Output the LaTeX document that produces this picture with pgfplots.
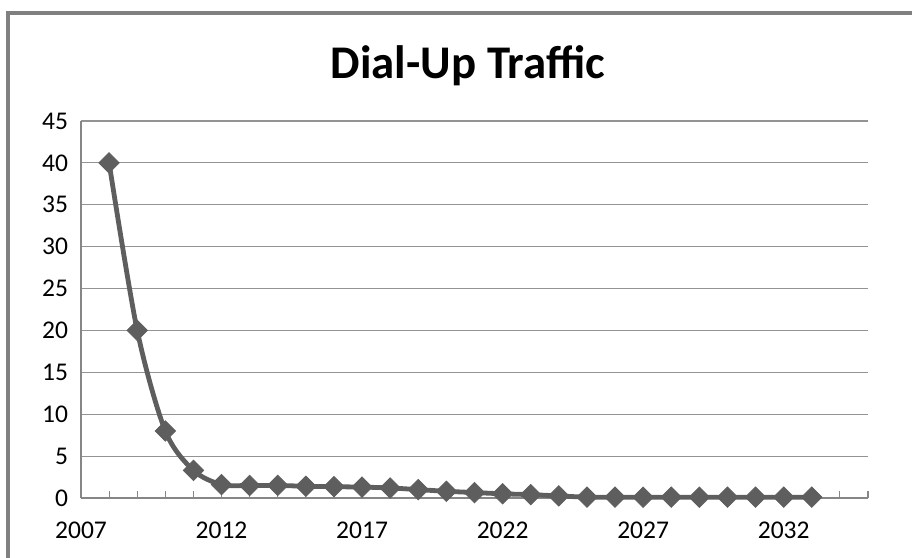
\documentclass[border=0pt]{standalone}
\usepackage{fontspec}
\setmainfont{Carlito}
\usepackage{pgfplots}
\pgfplotsset{compat=1.18}
\definecolor{frameGray}{HTML}{808080}
\definecolor{gridGray}{HTML}{939393}
\definecolor{axisGray}{HTML}{868686}
\definecolor{lineGray}{HTML}{5E5E5E}

\begin{document}
\begin{tikzpicture}
% picture is 912x558 px at 0.5bp per px
\path[use as bounding box] (0,0) rectangle (456bp,279bp);
\draw[frameGray, line width=2bp] (4bp,0) -- (4bp,272.5bp) -- (456bp,272.5bp);
\node[font=\fontsize{23.5}{27}\selectfont\bfseries] at (234bp,246bp) {Dial-Up Traffic};
\begin{axis}[
  at={(40.5bp,30bp)}, anchor=south west,
  scale only axis, width=393.5bp, height=188.5bp,
  xmin=2007, xmax=2035, ymin=0, ymax=45,
  xtick={2007,2012,...,2032}, minor xtick={2007,2008,...,2035},
  ytick={0,5,...,45},
  axis x line=bottom, axis y line=left,
  axis line style={-, axisGray, line width=0.7bp},
  tick align=inside,
  major tick length=3.5bp, minor tick length=3.5bp,
  every tick/.style={axisGray, line width=0.6bp},
  ytick style={draw=none},
  ymajorgrids, grid style={gridGray, line width=0.6bp},
  /pgf/number format/assume math mode=true,
  /pgf/number format/set thousands separator={},
  tick label style={font=\fontsize{12.8}{15}\selectfont},
  xticklabel style={yshift=-8.5bp},
  yticklabel style={xshift=-3bp},
  clip=false,
]
  \addplot[lineGray, line width=2.4bp, smooth, tension=0.5,
    mark=square*, mark size=3.6bp, mark options={rotate=45, fill=lineGray, draw=lineGray, line width=0.4bp}]
    coordinates {
      (2008,40) (2009,20) (2010,8) (2011,3.3) (2012,1.6) (2013,1.5)
      (2014,1.5) (2015,1.4) (2016,1.35) (2017,1.3) (2018,1.2) (2019,1.0)
      (2020,0.8) (2021,0.65) (2022,0.5) (2023,0.4) (2024,0.25) (2025,0.1)
      (2026,0.1) (2027,0.1) (2028,0.1) (2029,0.1) (2030,0.1) (2031,0.1)
      (2032,0.1) (2033,0.1)
    };
\end{axis}
\end{tikzpicture}
\end{document}
